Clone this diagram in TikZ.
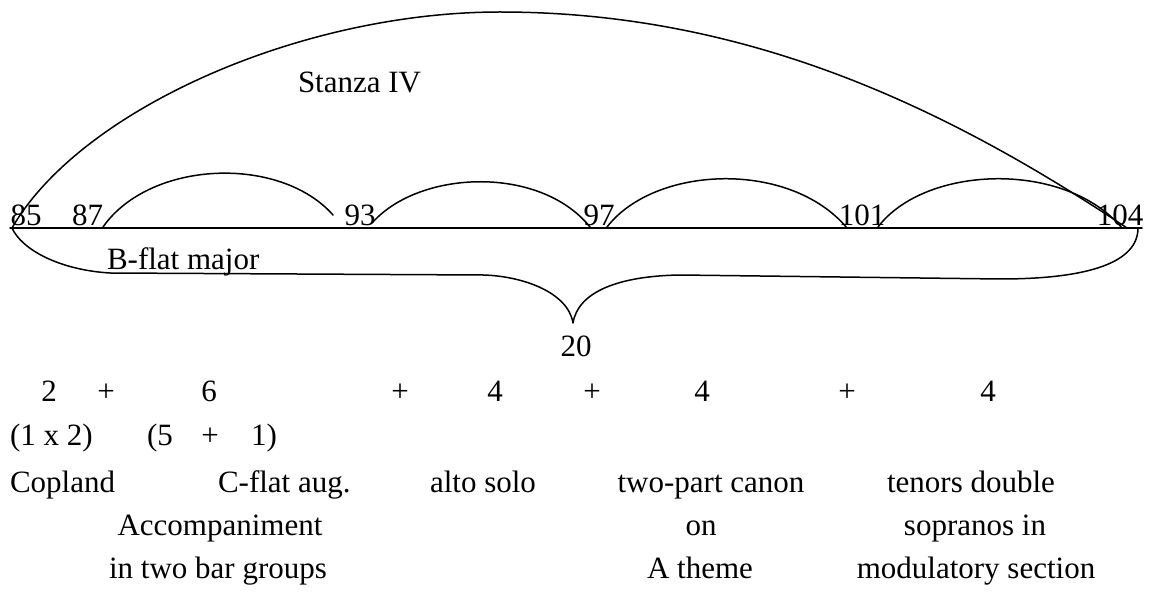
\documentclass[tikz,border=0pt]{standalone}
\usepackage{fontspec}
\setmainfont{Liberation Serif}
\begin{document}
\begin{tikzpicture}[x=1pt,y=-1pt,
  lbl/.style={inner sep=0pt,outer sep=0pt,font=\fontsize{31}{36}\selectfont},
  num/.style={lbl,anchor=base},
  ln/.style={line width=1.5pt,line cap=round,line join=round}]
\useasboundingbox (0,0) rectangle (1157,593);
% bar numbers
\node[num] (n85) at (26,226) {85};
\node[num] (n87) at (87.5,226) {87};
\node[num] (n93) at (360,226) {93};
\node[num] (n97) at (599,226) {97};
\node[num] (n101) at (862,226) {101};
\node[num] (n104) at (1120,226) {104};
% connector end points
\coordinate (L) at (10,228);
\coordinate (R) at (1142,228);
\coordinate (bs) at (12,228);
\coordinate (be) at (1127,228);
\coordinate (a1s) at (103,227);
\coordinate (a1e) at (333,215);
\coordinate (a2s) at (373,222);
\coordinate (a2e) at (590,227);
\coordinate (a3s) at (607,227);
\coordinate (a3e) at (847,228);
\coordinate (a4s) at (878,227);
\coordinate (a4e) at (1122,228);
\coordinate (tip) at (573,323);
\coordinate (bre) at (1138,228);
% main line
\draw[ln] (L) -- (R);
% big arc
\draw[ln] (bs) .. controls (80,110) and (300,12) .. (500,12)
               .. controls (750,12) and (950,110) .. (be);
% small arcs
\draw[ln] (a1s) .. controls (150,160) and (280,155) .. (a1e);
\draw[ln] (a2s) .. controls (420,170) and (540,165) .. (a2e);
\draw[ln] (a3s) .. controls (655,165) and (790,160) .. (a3e);
\draw[ln] (a4s) .. controls (925,165) and (1065,160) .. (a4e);
% brace
\draw[ln] (bs) .. controls (22,250) and (60,270) .. (110,273) -- (483,275)
   .. controls (522,276) and (568,292) .. (tip)
   .. controls (578,292) and (618,276) .. (680,275) -- (1000,279)
   .. controls (1090,279) and (1138,262) .. (bre);
% labels
\node[lbl,anchor=base west] (stanza) at (298,93) {Stanza IV};
\node[lbl,anchor=base west] (bflat) at (107,270) {B-flat major};
\node[num] (twenty) at (576,357) {20};
% row 1
\node[num] (r2) at (49,402) {2};
\node[num] (p1) at (106,402) {+};
\node[num] (r6) at (209,402) {6};
\node[num] (p2) at (400,402) {+};
\node[num] (r4a) at (495,402) {4};
\node[num] (p3) at (592,402) {+};
\node[num] (r4b) at (702,402) {4};
\node[num] (p4) at (847,402) {+};
\node[num] (r4c) at (988,402) {4};
% row 2
\node[lbl,anchor=base west] (onex) at (10,446) {(1 x 2)};
\node[lbl,anchor=base west] (five) at (147,446) {(5};
\node[num] (p5) at (210,446) {+};
\node[lbl,anchor=base east] (one) at (277,446) {1)};
% row 3
\node[lbl,anchor=base west] (copland) at (10,492) {Copland};
\node[lbl,anchor=base west] (cflat) at (218,492) {C-flat aug.};
\node[lbl,anchor=base west] (alto) at (430,492) {alto solo};
\node[num] (canon) at (711,492) {two-part canon};
\node[num] (tenors) at (971,492) {tenors double};
% row 4
\node[num] (accomp) at (220,535) {Accompaniment};
\node[num] (on) at (701,535) {on};
\node[num] (sopr) at (975,535) {sopranos in};
% row 5
\node[num] (groups) at (218,578) {in two bar groups};
\node[num] (atheme) at (700,578) {A theme};
\node[num] (modul) at (976,578) {modulatory section};
\end{tikzpicture}
\end{document}
